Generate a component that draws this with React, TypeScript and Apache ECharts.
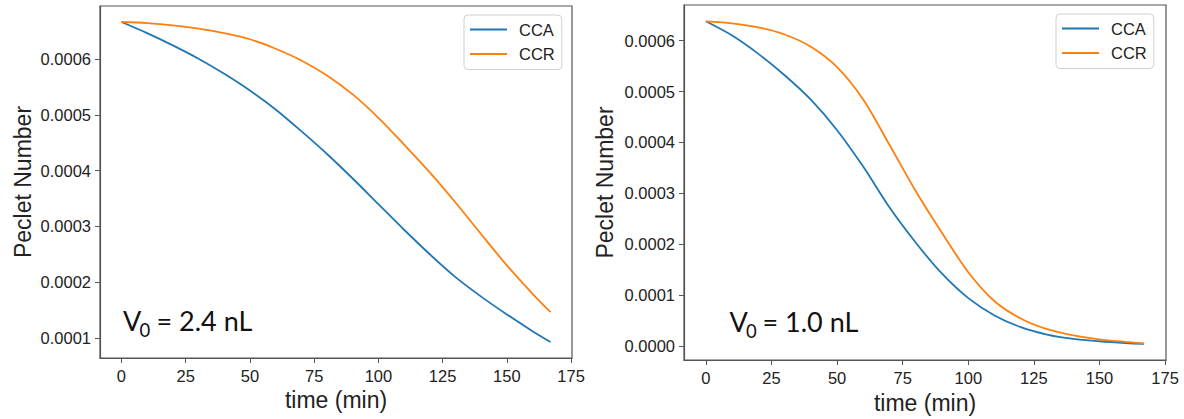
import React, { useEffect, useRef } from "react";
import * as echarts from "echarts";

const timeMin = [0, 10, 20, 30, 40, 50, 60, 70, 80, 90, 100, 110, 120, 130, 140, 150, 160, 167];

const leftCCA = [0.000667, 0.000647, 0.000625, 0.000601, 0.000574, 0.000544, 0.00051, 0.000471, 0.00043, 0.000386, 0.00034, 0.000294, 0.00025, 0.000209, 0.000174, 0.000142, 0.000112, 0.0000925];
const leftCCR = [0.000667, 0.000665, 0.000661, 0.000655, 0.000647, 0.000636, 0.000619, 0.000598, 0.000571, 0.000537, 0.000495, 0.000447, 0.000397, 0.000343, 0.000286, 0.00023, 0.000179, 0.000146];

const rightCCA = [0.000638, 0.00061, 0.000574, 0.000532, 0.000484, 0.000424, 0.000352, 0.000272, 0.000203, 0.000142, 0.000094, 0.00006, 0.000037, 0.0000225, 0.000014, 0.0000093, 0.0000059, 0.0000042];
const rightCCR = [0.000638, 0.000634, 0.000626, 0.000612, 0.000588, 0.000548, 0.000484, 0.000395, 0.000304, 0.000222, 0.000145, 0.000088, 0.000054, 0.000033, 0.000021, 0.000013, 0.000008, 0.000005];

const xTicks = [0, 25, 50, 75, 100, 125, 150, 175];
const yTicksLeft = [0.0001, 0.0002, 0.0003, 0.0004, 0.0005, 0.0006];
const yTicksRight = [0, 0.0001, 0.0002, 0.0003, 0.0004, 0.0005, 0.0006];

const seriesNames = ["CCA", "CCR"];
const colors = ["#1f77b4", "#ff7f0e"];

const FONT = "Liberation Sans";
const SPINE = "#555";
const TEXT = "#222";

function pairs(t: number[], v: number[]) {
  return t.map((x, i) => [x, v[i]]);
}

function xAxisFor(gridIndex: number, nameGap: number) {
  return {
    type: "value",
    gridIndex,
    min: -8.35,
    max: 175.35,
    name: "time (min)",
    nameLocation: "middle",
    nameGap,
    nameTextStyle: { fontFamily: FONT, fontSize: 23, color: TEXT },
    axisLine: { show: true, onZero: false, lineStyle: { color: SPINE, width: 1.2 } },
    splitLine: { show: false },
    axisTick: { show: true, length: 5, lineStyle: { color: SPINE, width: 1 }, customValues: xTicks },
    axisLabel: {
      fontFamily: FONT,
      fontSize: 16.5,
      color: TEXT,
      margin: 9,
      customValues: xTicks,
      formatter: (v: number) => String(Math.round(v)),
    },
  };
}

function yAxisFor(gridIndex: number, min: number, max: number, ticks: number[], nameGap: number) {
  return {
    type: "value",
    gridIndex,
    min,
    max,
    name: "Peclet Number",
    nameLocation: "middle",
    nameGap,
    nameTextStyle: { fontFamily: FONT, fontSize: 23, color: TEXT },
    axisLine: { show: true, onZero: false, lineStyle: { color: SPINE, width: 1.2 } },
    splitLine: { show: false },
    axisTick: { show: true, length: 5, lineStyle: { color: SPINE, width: 1 }, customValues: ticks },
    axisLabel: {
      fontFamily: FONT,
      fontSize: 16.5,
      color: TEXT,
      margin: 9,
      customValues: ticks,
      formatter: (v: number) => v.toFixed(4),
    },
  };
}

function legendFor(left: number, top: number) {
  return {
    orient: "vertical",
    left,
    top,
    data: seriesNames,
    icon: "rect",
    itemWidth: 37,
    itemHeight: 2,
    itemGap: 7.5,
    padding: [6, 7, 7, 6],
    borderColor: "#d0d0d0",
    borderWidth: 1,
    borderRadius: 4,
    backgroundColor: "#fff",
    textStyle: { fontFamily: FONT, fontSize: 16.5, color: TEXT, padding: [0, 0, 0, 7] },
  };
}

function annotation(x: number, yCap: number, ySub: number, subX: number, restX: number, rest: string) {
  const font = "Lato";
  return {
    type: "group",
    children: [
      { type: "text", x, y: yCap, style: { text: "V", fontFamily: font, fontSize: 27, fill: "#111", verticalAlign: "middle", align: "left" } },
      { type: "text", x: subX, y: ySub, style: { text: "0", fontFamily: font, fontSize: 18.5, fill: "#111", verticalAlign: "middle", align: "left" } },
      { type: "text", x: restX, y: yCap, style: { text: rest, fontFamily: font, fontSize: 27, fill: "#111", verticalAlign: "middle", align: "left" } },
    ],
  };
}

export default function App() {
  const ref = useRef<HTMLDivElement>(null);
  useEffect(() => {
    if (!ref.current) return;
    const chart = echarts.init(ref.current, null, { renderer: "svg" });
    const lineSeries = (name: string, data: number[], idx: number, color: string) => ({
      name,
      type: "line",
      xAxisIndex: idx,
      yAxisIndex: idx,
      data: pairs(timeMin, data),
      showSymbol: false,
      smooth: 0.3,
      lineStyle: { color, width: 1.8 },
      itemStyle: { color },
      z: 3,
    });
    chart.setOption({
      animation: false,
      backgroundColor: "#fff",
      grid: [
        { left: 100, top: 6, width: 472, height: 352, show: true, borderColor: SPINE, borderWidth: 1.2, backgroundColor: "transparent" },
        { left: 684, top: 5, width: 482, height: 360, show: true, borderColor: SPINE, borderWidth: 1.2, backgroundColor: "transparent" },
      ],
      xAxis: [xAxisFor(0, 28), xAxisFor(1, 31)],
      yAxis: [
        yAxisFor(0, 0.0000638, 0.0006957, yTicksLeft, 66),
        yAxisFor(1, -0.0000275, 0.00067, yTicksRight, 68),
      ],
      legend: [legendFor(464, 15), legendFor(1056, 14)],
      series: [
        lineSeries(seriesNames[0], leftCCA, 0, colors[0]),
        lineSeries(seriesNames[1], leftCCR, 0, colors[1]),
        lineSeries(seriesNames[0], rightCCA, 1, colors[0]),
        lineSeries(seriesNames[1], rightCCR, 1, colors[1]),
      ],
      graphic: [
        annotation(123, 320, 330, 139.5, 156.5, "= 2.4 nL"),
        annotation(729.5, 321, 331, 746, 762.5, "= 1.0 nL"),
      ],
    });
    return () => chart.dispose();
  }, []);
  return <div ref={ref} style={{ position: "absolute", left: 0, top: 0, width: 1184, height: 419 }} />;
}
